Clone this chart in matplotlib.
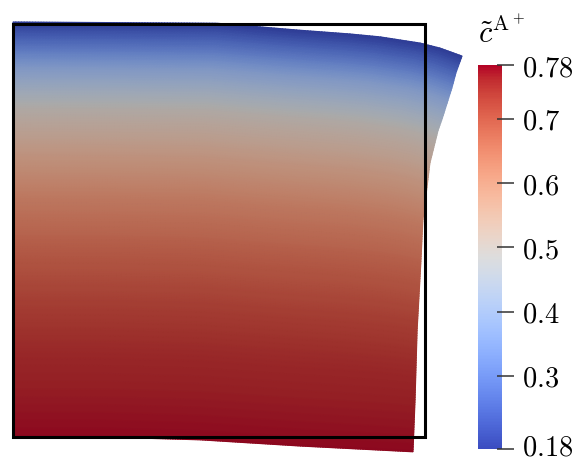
import numpy as np
import matplotlib
matplotlib.use('Agg')
import matplotlib.pyplot as plt
from matplotlib.colors import ListedColormap, Normalize
from matplotlib.cm import ScalarMappable
from matplotlib.patches import Rectangle
from matplotlib.ticker import FixedLocator
from matplotlib.transforms import ScaledTranslation

plt.rcParams['mathtext.fontset'] = 'cm'

# perfil de concentracion segun la altura de referencia (Y=0 abajo, Y=1 arriba)
perfil_Y = [0.0, 0.20, 0.33, 0.45, 0.57, 0.67, 0.79, 0.89, 1.0]
perfil_c = [0.78, 0.755, 0.725, 0.685, 0.635, 0.58, 0.50, 0.38, 0.19]

# contorno deformado: parametro de referencia -> posicion actual
sup_ref = [0.0, 0.454, 0.639, 0.750, 0.817, 0.906, 0.950, 1.0]
sup_x = [0.0, 0.495, 0.697, 0.818, 0.891, 0.988, 1.036, 1.090]
sup_y = [1.005, 1.002, 0.985, 0.976, 0.969, 0.954, 0.942, 0.9225]

inf_ref = [0.0, 0.217, 0.468, 0.718, 1.0]
inf_x = [0.0, 0.211, 0.454, 0.697, 0.971]
inf_y = [0.0, 0.0, -0.007, -0.022, -0.036]

der_ref = [0.0, 0.131, 0.308, 0.477, 0.585, 0.669, 0.729, 0.813, 0.839, 0.921, 0.957, 1.0]
der_x = [0.971, 0.976, 0.981, 0.990, 0.995, 1.005, 1.012, 1.032, 1.041, 1.066, 1.075, 1.090]
der_y = [-0.036, 0.090, 0.259, 0.421, 0.525, 0.605, 0.663, 0.743, 0.768, 0.847, 0.881, 0.9225]

izq_ref = [0.0, 1.0]
izq_x = [0.0, 0.0]
izq_y = [0.0, 1.005]

c_min, c_max = 0.186, 0.784
ticks = [c_min, 0.3, 0.4, 0.5, 0.6, 0.7, c_max]
tick_labels = ['0.18', '0.3', '0.4', '0.5', '0.6', '0.7', '0.78']

# malla de referencia y parche de Coons
u, v = np.meshgrid(np.linspace(0, 1, 161), np.linspace(0, 1, 161))

Bx, By = np.interp(u, inf_ref, inf_x), np.interp(u, inf_ref, inf_y)
Tx, Ty = np.interp(u, sup_ref, sup_x), np.interp(u, sup_ref, sup_y)
Lx, Ly = np.interp(v, izq_ref, izq_x), np.interp(v, izq_ref, izq_y)
Rx, Ry = np.interp(v, der_ref, der_x), np.interp(v, der_ref, der_y)


def coons(B, T, L, R, b0, b1, t0, t1):
    return ((1 - v) * B + v * T + (1 - u) * L + u * R
            - ((1 - u) * (1 - v) * b0 + u * (1 - v) * b1 + (1 - u) * v * t0 + u * v * t1))


X = coons(Bx, Tx, Lx, Rx, inf_x[0], inf_x[-1], sup_x[0], sup_x[-1])
Y = coons(By, Ty, Ly, Ry, inf_y[0], inf_y[-1], sup_y[0], sup_y[-1])
C = np.interp(v, perfil_Y, perfil_c)

# colormap con sombreado (como en la vista 3D)
base = plt.get_cmap('coolwarm')(np.linspace(0, 1, 256))
sombra = base.copy()
sombra[:, :3] = base[:, :3] * 0.77
cmap_sombra = ListedColormap(sombra)

fig = plt.figure(figsize=(5.77, 4.61), dpi=100)
ax = fig.add_axes([0, 0, 470 / 577, 1])
ax.pcolormesh(X, Y, C, shading='gouraud', cmap=cmap_sombra, vmin=c_min, vmax=c_max)
ax.add_patch(Rectangle((0, 0), 1, 1, fill=False, edgecolor='black', lw=2.2, zorder=5))
ax.set_xlim(-13 / 412, 457 / 412)
ax.set_ylim(-24 / 413, 437 / 413)
ax.axis('off')

cax = fig.add_axes([478 / 577, 12 / 461, 24 / 577, 384 / 461])
sm = ScalarMappable(norm=Normalize(c_min, c_max), cmap='coolwarm')
cb = fig.colorbar(sm, cax=cax, ticks=ticks)
cb.outline.set_visible(False)
cax.set_yticklabels(['$' + t + '$' for t in tick_labels])
cax.yaxis.set_minor_locator(FixedLocator(ticks))
cax.yaxis.remove_overlapping_locs = False
cax.tick_params(which='major', direction='out', length=8.6, width=1.1,
                color='#333333', pad=6.0, labelsize=20.5)
cax.tick_params(which='minor', direction='in', length=3.6, width=1.1, color='#333333')

# subir un poco la etiqueta inferior para que no quede cortada
etiq = cax.get_yticklabels()[0]
etiq.set_transform(etiq.get_transform() + ScaledTranslation(0, 5 / 100, fig.dpi_scale_trans))

fig.text(478 / 577, 1 - 43 / 461, r'$\tilde{c}^{\mathrm{A}^+}$', ha='left',
         va='baseline', fontsize=22)

plt.savefig('out.png', dpi=100)
